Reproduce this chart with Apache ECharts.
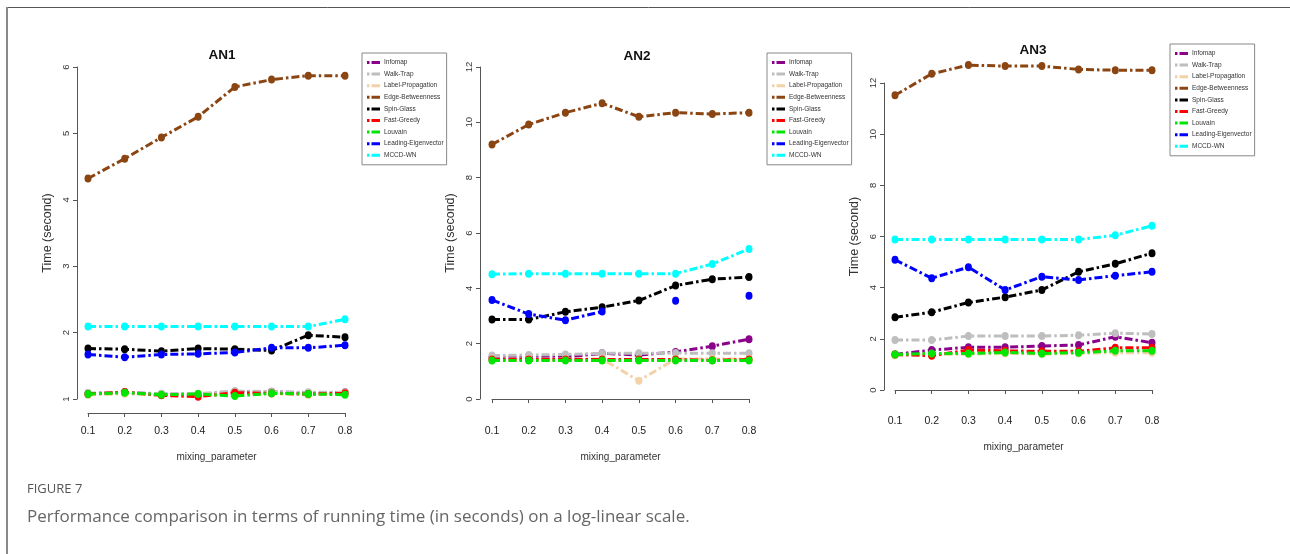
<!DOCTYPE html>
<html>
<head>
<meta charset="utf-8">
<script src="https://cdn.jsdelivr.net/npm/echarts@6/dist/echarts.min.js"></script>
<style>
html, body { margin: 0; padding: 0; background: #fff; }
#main { width: 1290px; height: 554px; }
</style>
</head>
<body>
<div id="main"></div>
<script>
// x categories (mixing parameter)
var mixing = ['0.1', '0.2', '0.3', '0.4', '0.5', '0.6', '0.7', '0.8'];

var methods = ['Infomap', 'Walk-Trap', 'Label-Propagation', 'Edge-Betweenness', 'Spin-Glass',
    'Fast-Greedy', 'Louvain', 'Leading-Eigenvector', 'MCCD-WN'];
var colors = ['#8b008b', '#bebebe', '#f3d2a8', '#8b4513', '#000000',
    '#ff0000', '#00e600', '#0000ff', '#00ffff'];

// AN1 running times (s)
var an1Infomap = [1.08, 1.10, 1.07, 1.07, 1.11, 1.11, 1.09, 1.10];
var an1WalkTrap = [1.09, 1.10, 1.08, 1.08, 1.12, 1.11, 1.10, 1.10];
var an1LabelProp = [1.06, 1.08, 1.06, 1.07, 1.07, 1.08, 1.06, 1.09];
var an1EdgeBetw = [4.32, 4.62, 4.94, 5.25, 5.70, 5.81, 5.87, 5.87];
var an1SpinGlass = [1.76, 1.75, 1.72, 1.76, 1.75, 1.73, 1.96, 1.93];
var an1FastGreedy = [1.075, 1.105, 1.055, 1.035, 1.095, 1.085, 1.075, 1.085];
var an1Louvain = [1.075, 1.095, 1.065, 1.075, 1.045, 1.085, 1.075, 1.065];
var an1LeadEig = [1.67, 1.63, 1.67, 1.68, 1.70, 1.77, 1.77, 1.81];
var an1Mccd = [2.09, 2.09, 2.09, 2.09, 2.09, 2.09, 2.09, 2.20];

// AN2 running times (s)
var an2Infomap = [1.51, 1.51, 1.51, 1.65, 1.59, 1.70, 1.91, 2.16];
var an2WalkTrap = [1.57, 1.59, 1.61, 1.65, 1.65, 1.66, 1.65, 1.65];
var an2LabelProp = [1.45, 1.45, 1.45, 1.45, 0.66, 1.45, 1.45, 1.45];
var an2EdgeBetw = [9.20, 9.92, 10.35, 10.69, 10.20, 10.35, 10.30, 10.35];
var an2SpinGlass = [2.87, 2.87, 3.15, 3.32, 3.56, 4.10, 4.33, 4.41];
var an2FastGreedy = [1.43, 1.43, 1.43, 1.43, 1.43, 1.43, 1.40, 1.43];
var an2Louvain = [1.39, 1.39, 1.39, 1.39, 1.39, 1.39, 1.39, 1.39];
var an2LeadEig = [3.58, 3.07, 2.85, 3.16, null, 3.55, null, 3.73];
var an2Mccd = [4.51, 4.53, 4.53, 4.53, 4.53, 4.53, 4.88, 5.42];

// AN3 running times (s)
var an3Infomap = [1.39, 1.56, 1.67, 1.67, 1.72, 1.76, 2.08, 1.85];
var an3WalkTrap = [1.95, 1.95, 2.11, 2.11, 2.11, 2.14, 2.22, 2.19];
var an3LabelProp = [1.36, 1.40, 1.40, 1.43, 1.40, 1.43, 1.46, 1.46];
var an3EdgeBetw = [11.52, 12.36, 12.70, 12.66, 12.66, 12.53, 12.50, 12.50];
var an3SpinGlass = [2.84, 3.04, 3.42, 3.63, 3.91, 4.62, 4.93, 5.35];
var an3FastGreedy = [1.39, 1.34, 1.56, 1.53, 1.51, 1.51, 1.65, 1.65];
var an3Louvain = [1.39, 1.43, 1.43, 1.47, 1.43, 1.46, 1.53, 1.53];
var an3LeadEig = [5.09, 4.37, 4.80, 3.91, 4.43, 4.30, 4.47, 4.62];
var an3Mccd = [5.88, 5.88, 5.88, 5.88, 5.88, 5.88, 6.05, 6.42];

var an1 = [an1Infomap, an1WalkTrap, an1LabelProp, an1EdgeBetw, an1SpinGlass, an1FastGreedy, an1Louvain, an1LeadEig, an1Mccd];
var an2 = [an2Infomap, an2WalkTrap, an2LabelProp, an2EdgeBetw, an2SpinGlass, an2FastGreedy, an2Louvain, an2LeadEig, an2Mccd];
var an3 = [an3Infomap, an3WalkTrap, an3LabelProp, an3EdgeBetw, an3SpinGlass, an3FastGreedy, an3Louvain, an3LeadEig, an3Mccd];

var narrow = "'Liberation Sans Narrow', 'Liberation Sans', Arial, sans-serif";
var plain = "'Liberation Sans', Arial, sans-serif";

var option = {
    animation: false,
    backgroundColor: '#fff',
    title: [],
    legend: [],
    grid: [],
    xAxis: [],
    yAxis: [],
    series: [],
    graphic: [
        { type: 'line', shape: { x1: 7, y1: 7.5, x2: 1290, y2: 7.5 }, style: { stroke: '#555', lineWidth: 1 } },
        { type: 'line', shape: { x1: 7, y1: 7, x2: 7, y2: 554 }, style: { stroke: '#888', lineWidth: 2 } },
        { type: 'text', left: 27, top: 483, style: { text: 'FIGURE 7', font: '13px "Open Sans"', fill: '#555' } },
        { type: 'text', left: 27, top: 509, style: { text: 'Performance comparison in terms of running time (in seconds) on a log-linear scale.', font: '17px "Open Sans"', fill: '#666' } }
    ]
};

function addPanel(idx, name, data, p) {
    option.title.push({
        text: name, left: p.titleX, top: p.titleY, textAlign: 'center', padding: 0,
        textStyle: { fontSize: 13.5, fontWeight: 'bold', fontFamily: narrow, color: '#111' }
    });
    option.legend.push({
        orient: 'vertical', left: p.legendX, top: p.legendY, data: methods,
        icon: 'path://M0,0h2.5v3h-2.5z M4.5,0h8.5v3h-8.5z',
        itemWidth: 13, itemHeight: 3, itemGap: 2.6,
        padding: [5, 3, 5, 5], borderColor: '#888', borderWidth: 1,
        selectedMode: false,
        textStyle: { fontSize: 6.5, lineHeight: 9, fontFamily: narrow, color: '#333', padding: [0, 0, 0, -1] }
    });
    option.grid.push({ left: p.left, top: p.top, width: 257, height: p.height });
    option.xAxis.push({
        gridIndex: idx, type: 'category', data: mixing, boundaryGap: false, offset: p.xOff,
        name: 'mixing_parameter', nameLocation: 'middle', nameGap: 39,
        nameTextStyle: { fontSize: 10, fontFamily: narrow, color: '#333' },
        axisLine: { lineStyle: { color: '#555', width: 1 } },
        axisTick: { length: 4, lineStyle: { color: '#555' } },
        axisLabel: { margin: 12.5, fontSize: 10.5, fontFamily: narrow, color: '#222' },
        splitLine: { show: false }
    });
    option.yAxis.push({
        gridIndex: idx, type: 'value', min: p.yMin, max: p.yMax, interval: p.yStep, offset: p.yOff,
        name: 'Time (second)', nameLocation: 'middle', nameGap: 23, nameRotate: 90,
        nameTextStyle: { fontSize: 12.5, fontFamily: plain, color: '#333' },
        axisLine: { show: true, lineStyle: { color: '#555', width: 1 } },
        axisTick: { show: true, length: 4, lineStyle: { color: '#555' } },
        axisLabel: { rotate: 90, margin: 6, fontSize: 9.5, fontFamily: plain, color: '#333' },
        splitLine: { show: false }
    });
    methods.forEach(function (m, i) {
        option.series.push({
            name: m, type: 'line', xAxisIndex: idx, yAxisIndex: idx,
            data: data[i], clip: false, connectNulls: false,
            symbol: 'circle', symbolSize: [7, 8],
            itemStyle: { color: colors[i] },
            lineStyle: { color: colors[i], width: 3, type: [8, 3, 2.5, 3] },
            z: 2 + i
        });
    });
}

addPanel(0, 'AN1', an1, { titleX: 222, titleY: 48, legendX: 362, legendY: 53, left: 88, top: 67, height: 332, xOff: 14, yOff: 11, yMin: 1, yMax: 6, yStep: 1 });
addPanel(1, 'AN2', an2, { titleX: 637, titleY: 49, legendX: 767, legendY: 53, left: 492, top: 67, height: 332, xOff: 14, yOff: 12, yMin: 0, yMax: 12, yStep: 2 });
addPanel(2, 'AN3', an3, { titleX: 1033, titleY: 43, legendX: 1170, legendY: 44, left: 895, top: 83, height: 307, xOff: 13, yOff: 11, yMin: 0, yMax: 12, yStep: 2 });

var chart = echarts.init(document.getElementById('main'));
chart.setOption(option);
</script>
</body>
</html>
